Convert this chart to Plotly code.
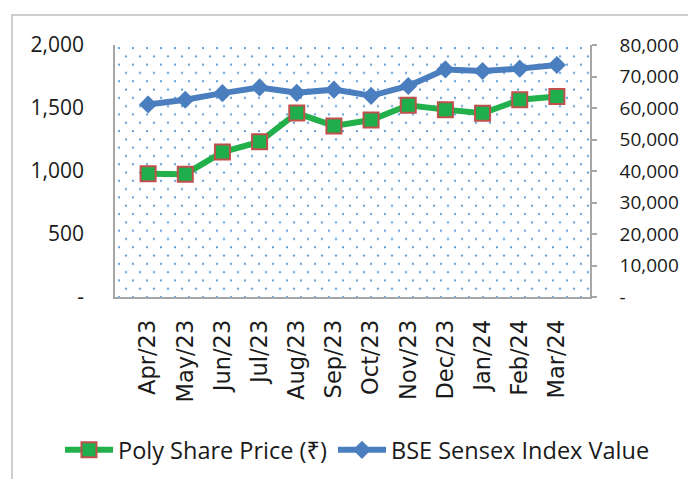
import base64
import plotly.graph_objects as go

months = ["Apr/23", "May/23", "Jun/23", "Jul/23", "Aug/23", "Sep/23",
          "Oct/23", "Nov/23", "Dec/23", "Jan/24", "Feb/24", "Mar/24"]
poly_price = [978, 975, 1150, 1232, 1460, 1358, 1405, 1522, 1487, 1458, 1565, 1592]
sensex = [61112, 62622, 64719, 66528, 64831, 65828, 63875, 66988, 72240, 71752, 72500, 73651]

left_ticks = [0, 500, 1000, 1500, 2000]
left_text = ["-", "500", "1,000", "1,500", "2,000"]
right_ticks = [0, 10000, 20000, 30000, 40000, 50000, 60000, 70000, 80000]
right_text = ["-", "10,000", "20,000", "30,000", "40,000", "50,000", "60,000", "70,000", "80,000"]

W, H = 688, 479
L, R, T, B = 115, 98, 45, 182
pw, ph = W - L - R, H - T - B

# dotted plot-area background (staggered dot pattern)
svg = (
    f"<svg xmlns='http://www.w3.org/2000/svg' width='{pw}' height='{ph}' viewBox='0 0 {pw} {ph}' preserveAspectRatio='none'>"
    "<defs><pattern id='p' x='0' y='0' width='14' height='16.6' patternUnits='userSpaceOnUse'>"
    "<circle cx='4' cy='3' r='1.15' fill='#5b9bd5'/>"
    "<circle cx='11' cy='11.3' r='1.15' fill='#5b9bd5'/>"
    "</pattern></defs><rect width='100%' height='100%' fill='url(#p)'/></svg>"
)
src = "data:image/svg+xml;base64," + base64.b64encode(svg.encode()).decode()

fig = go.Figure()
fig.add_trace(go.Scatter(
    x=months, y=poly_price, name="Poly Share Price (₹)", mode="lines+markers",
    line=dict(color="#22b04b", width=6),
    marker=dict(symbol="square", size=15, color="#1fae4b", line=dict(color="#c0504d", width=2)),
    yaxis="y", legend="legend", showlegend=True,
))
fig.add_trace(go.Scatter(
    x=months, y=sensex, name="BSE Sensex Index Value", mode="lines+markers",
    line=dict(color="#4a7ebf", width=6),
    marker=dict(symbol="diamond", size=14, color="#4a7ebf"),
    yaxis="y2", legend="legend2", showlegend=True,
))

axis_grey = "#a6a6a6"
leg_common = dict(
    orientation="h", xanchor="left",
    y=(H - B - 450) / ph, yanchor="middle",
    font=dict(size=23.5, color="#1a1a1a"), bgcolor="rgba(0,0,0,0)",
    itemwidth=48, tracegroupgap=0, visible=True,
)
fig.update_layout(
    width=W, height=H, showlegend=True,
    margin=dict(l=L, r=R, t=T, b=B, pad=0, autoexpand=False),
    paper_bgcolor="white", plot_bgcolor="white",
    font=dict(family="Open Sans, Noto Sans, DejaVu Sans", color="#1a1a1a"),
    xaxis=dict(
        type="category", showgrid=False, zeroline=False, automargin=False,
        showline=True, linecolor=axis_grey, linewidth=1.5, mirror=False,
        ticks="", tickangle=-90, ticklabelstandoff=12,
        tickfont=dict(family="DejaVu Sans", size=22.5, color="#1a1a1a"),
    ),
    yaxis=dict(
        range=[0, 2000], tickvals=left_ticks, ticktext=left_text, automargin=False,
        showgrid=False, zeroline=False, showline=True, linecolor=axis_grey, linewidth=1.5,
        ticks="", ticklabelstandoff=25,
        tickfont=dict(size=21, color="#1a1a1a"),
    ),
    yaxis2=dict(
        range=[0, 80000], tickvals=right_ticks, ticktext=right_text, automargin=False,
        overlaying="y", side="right", anchor="x",
        showgrid=False, zeroline=False, showline=True, linecolor=axis_grey, linewidth=1.5,
        ticks="outside", ticklen=5, tickcolor=axis_grey, tickwidth=1.5, ticklabelstandoff=19,
        tickfont=dict(size=19, color="#1a1a1a"),
    ),
    legend=dict(x=(60 - L) / pw, **leg_common),
    legend2=dict(x=(333 - L) / pw, **leg_common),
    images=[dict(source=src, xref="paper", yref="paper", x=0, y=1, sizex=1, sizey=1,
                 xanchor="left", yanchor="top", sizing="stretch", layer="below")],
    shapes=[dict(type="rect", xref="paper", yref="paper",
                 x0=(12 - L) / pw, x1=1.4, y0=-1.0, y1=(H - B - 15) / ph,
                 line=dict(color="#bfbfbf", width=1.5), fillcolor="rgba(0,0,0,0)", layer="below")],
)

fig.write_html("out.html", config={"displayModeBar": False},
               post_script="document.body.style.margin='0';document.body.style.overflow='hidden';")
